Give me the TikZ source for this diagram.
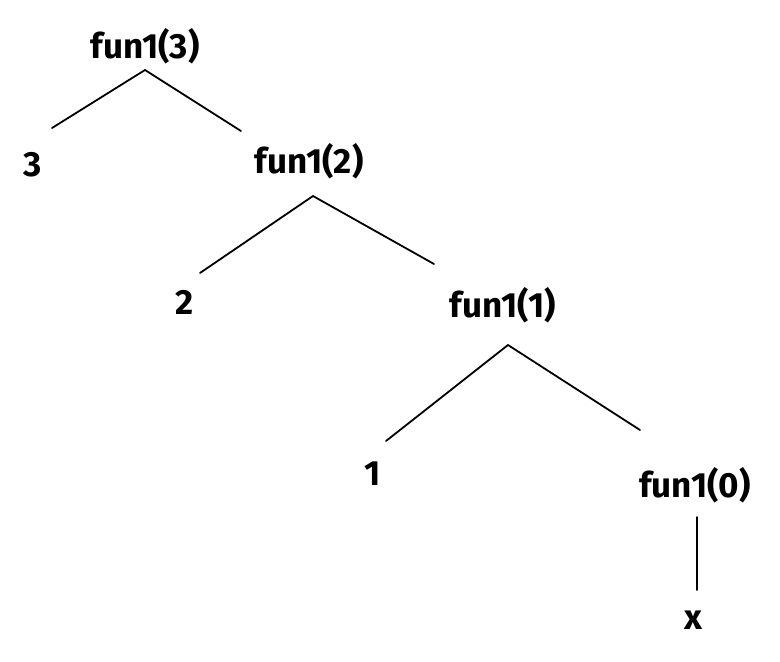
\documentclass[tikz,border=0pt]{standalone}
\usepackage{fontspec}
\setmainfont{Fira Sans}
\usetikzlibrary{calc}
\begin{document}
\begin{tikzpicture}[x=1pt,y=-1pt,
  lbl/.style={inner sep=0pt,font=\fontsize{35}{40}\selectfont\bfseries},
  edge/.style={line width=1.8pt,line cap=round,black}]
\useasboundingbox (0,0) rectangle (780,662);
\node[lbl] (f3) at (145,46) {fun1(3)};
\node[lbl] (n3) at (33,165) {3};
\node[lbl] (f2) at (309,161) {fun1(2)};
\node[lbl] (n2) at (185,302) {2};
\node[lbl] (f1) at (503,305) {fun1(1)};
\node[lbl] (n1) at (373,474) {1};
\node[lbl] (f0) at (695,485) {fun1(0)};
\node[lbl] (nx) at (693,620) {x};
\draw[edge] ($(f3)+(0,24)$) -- ($(n3)+(19,-37)$);
\draw[edge] ($(f3)+(0,24)$) -- ($(f2)+(-68,-30)$);
\draw[edge] ($(f2)+(4,35)$) -- ($(n2)+(15,-29)$);
\draw[edge] ($(f2)+(4,35)$) -- ($(f1)+(-69,-41)$);
\draw[edge] ($(f1)+(5,40)$) -- ($(n1)+(13,-33)$);
\draw[edge] ($(f1)+(5,40)$) -- ($(f0)+(-55,-55)$);
\draw[edge] ($(f0)+(2,32)$) -- ($(nx)+(4,-30)$);
\end{tikzpicture}
\end{document}
